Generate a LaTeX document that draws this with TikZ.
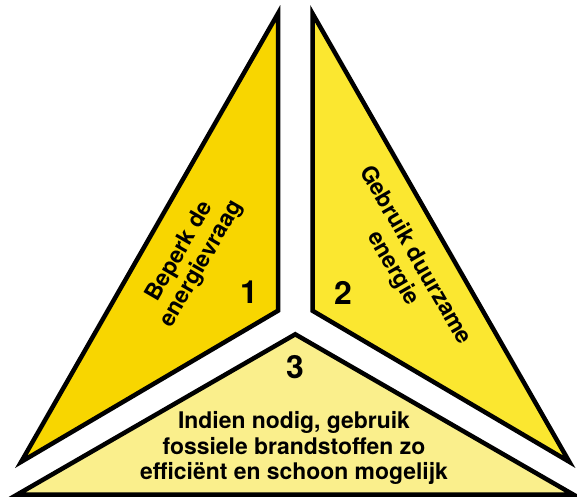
\documentclass[tikz,border=0pt]{standalone}
\usepackage{fontspec}
\setmainfont{TeX Gyre Heros}
\usepackage{tikz}
\usetikzlibrary{positioning}
\definecolor{partone}{RGB}{248,214,0}
\definecolor{parttwo}{RGB}{251,231,48}
\definecolor{partthree}{RGB}{250,239,140}
\tikzset{
  tri-part/.style={draw=black, line width=4.5bp, line join=miter},
  part-text/.style={font=\bfseries\fontsize{23}{25.5}\selectfont, align=center, inner sep=0pt},
  part-number/.style={font=\bfseries\fontsize{32}{32}\selectfont, inner sep=0pt}
}

\begin{document}
\begin{tikzpicture}[x=1bp, y=-1bp]
  \useasboundingbox (0,0) rectangle (577,497);

  % Left part
  \draw[tri-part, fill=partone] (278,13.5) -- (278,310.7) -- (21.2,461.8) -- cycle;
  \node[part-text, rotate=60] (demand) at (191,258) {Beperk de\\energievraag};
  \node[part-number] (one) at (249,292) {1};

  % Right part
  \draw[tri-part, fill=parttwo] (312.5,13.5) -- (312.5,310.7) -- (569.3,461.8) -- cycle;
  \node[part-text, rotate=-60] (renew) at (404,262) {Gebruik duurzame\\energie};
  \node[part-number] (two) at (343,293) {2};

  % Bottom part
  \draw[tri-part, fill=partthree] (295.25,334.3) -- (573.15,494.5) -- (17.35,494.5) -- cycle;
  \node[part-number] (three) at (295,367) {3};
  \node[part-text] (fossil) at (294,448)
    {Indien nodig, gebruik\\fossiele brandstoffen zo\\efficiënt en schoon mogelijk};
\end{tikzpicture}
\end{document}
